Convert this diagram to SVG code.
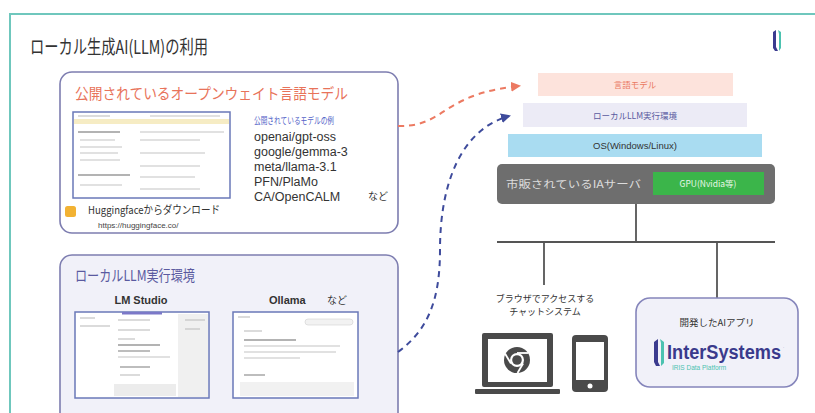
<svg xmlns="http://www.w3.org/2000/svg" width="815" height="413" viewBox="0 0 815 413">
  <defs>
    <style>
      .jp { font-family: "Noto Sans CJK JP", "Noto Sans", sans-serif; }
      .lat { font-family: "Liberation Sans", "Noto Sans CJK JP", sans-serif; }
      .panel { stroke: #7d7db0; stroke-width: 1.6; }
      .shot { fill: #ffffff; stroke: #6a78b8; stroke-width: 1.5; }
      .ln { stroke: #c4c4c4; stroke-width: 1.2; }
      .ln2 { stroke: #9a9a9a; stroke-width: 1.3; }
      .wire { stroke: #555555; stroke-width: 1.8; fill: none; }
      .dev { fill: #4a4a4a; }
    </style>
    <marker id="arrOrange" viewBox="0 0 10 10" refX="8" refY="5" markerWidth="5" markerHeight="5" orient="auto">
      <path d="M0,0 L10,5 L0,10 Z" fill="#ec7a62"/>
    </marker>
    <marker id="arrBlue" viewBox="0 0 10 10" refX="8" refY="5" markerWidth="5" markerHeight="5" orient="auto">
      <path d="M0,0 L10,5 L0,10 Z" fill="#3e4b9c"/>
    </marker>
  </defs>

  <rect x="0" y="0" width="815" height="413" fill="#ffffff"/>
  <!-- page frame -->
  <rect x="10" y="14" width="830" height="430" fill="#ffffff" stroke="#6fc7bd" stroke-width="2"/>

  <text class="jp" x="30" y="54" font-size="19" fill="#333333" textLength="178" lengthAdjust="spacingAndGlyphs">ローカル生成AI(LLM)の利用</text>

  <!-- corner mark -->
  <g id="corner-logo">
    <path d="M773,32 L776,30 L776,47 L778,51 L775,51 L773,48 Z" fill="#3b3b8f"/>
    <path d="M778,30 L781,32 L781,48 L779,51 L779,34 Z" fill="#4cc2b0"/>
  </g>

  <!-- open-weight models panel -->
  <g id="open-models">
    <rect class="panel" x="60" y="72" width="338" height="161" rx="12" fill="#ffffff"/>
    <text class="jp" x="75" y="99" font-size="15" fill="#e8735a" textLength="273" lengthAdjust="spacingAndGlyphs">公開されているオープンウェイト言語モデル</text>
    <rect class="shot" x="73" y="112" width="157" height="86"/>
    <rect x="74" y="119" width="155" height="5" fill="#f6ecc4"/>
    <line class="ln" x1="78" y1="116" x2="110" y2="116"/>
    <line class="ln" x1="150" y1="116" x2="220" y2="116"/>
    <line class="ln2" x1="78" y1="132" x2="120" y2="132"/>
    <line class="ln" x1="140" y1="132" x2="224" y2="132"/>
    <line class="ln" x1="80" y1="140" x2="115" y2="140"/>
    <line class="ln" x1="140" y1="140" x2="200" y2="140"/>
    <line class="ln" x1="80" y1="147" x2="122" y2="147"/>
    <line class="ln" x1="80" y1="153" x2="118" y2="153"/>
    <line class="ln" x1="140" y1="153" x2="205" y2="153"/>
    <line class="ln" x1="80" y1="160" x2="120" y2="160"/>
    <line class="ln" x1="140" y1="166" x2="200" y2="166"/>
    <line class="ln2" x1="78" y1="175" x2="130" y2="175"/>
    <line class="ln" x1="140" y1="177" x2="195" y2="177"/>
    <line class="ln" x1="80" y1="185" x2="122" y2="185"/>
    <line class="ln" x1="140" y1="189" x2="200" y2="189"/>
    <rect x="65" y="206" width="11" height="11" rx="2.5" fill="#f2b233"/>
    <text class="jp" x="88" y="214" font-size="11" fill="#333333" textLength="132" lengthAdjust="spacingAndGlyphs">Huggingfaceからダウンロード</text>
    <text class="lat" x="98" y="228" font-size="8" fill="#444444">https://huggingface.co/</text>
    <text class="jp" x="254" y="124" font-size="9.5" fill="#5464c8" textLength="80" lengthAdjust="spacingAndGlyphs">公開されているモデルの例</text>
    <text class="lat" font-size="12.5" fill="#333333">
      <tspan x="254" y="141">openai/gpt-oss</tspan>
      <tspan x="254" y="156">google/gemma-3</tspan>
      <tspan x="254" y="171">meta/llama-3.1</tspan>
      <tspan x="254" y="186">PFN/PlaMo</tspan>
      <tspan x="254" y="201">CA/OpenCALM</tspan>
    </text>
    <text class="jp" x="368" y="200" font-size="10" fill="#333333">など</text>
  </g>

  <!-- local runtime panel -->
  <g id="local-runtime">
    <rect class="panel" x="60" y="255" width="338" height="180" rx="12" fill="#f1f1f9"/>
    <text class="jp" x="75" y="281" font-size="15" fill="#5a5aa0" textLength="120" lengthAdjust="spacingAndGlyphs">ローカルLLM実行環境</text>
    <text class="lat" x="141" y="304" font-size="11" font-weight="bold" fill="#333333" text-anchor="middle">LM Studio</text>
    <text class="lat" x="269" y="304" font-size="11" font-weight="bold" fill="#333333">Ollama</text>
    <text class="jp" x="327" y="304" font-size="10" fill="#333333">など</text>
    <rect class="shot" x="75" y="312" width="134" height="86"/>
    <rect x="122" y="312" width="40" height="2.5" fill="#7b78c8"/>
    <rect x="178" y="314" width="30" height="83" fill="#f0f0f0"/>
    <line class="ln" x1="80" y1="318" x2="95" y2="318"/>
    <line class="ln" x1="80" y1="326" x2="110" y2="326"/>
    <line class="ln" x1="118" y1="320" x2="150" y2="320"/>
    <line class="ln" x1="118" y1="330" x2="150" y2="330"/>
    <line class="ln" x1="118" y1="339" x2="135" y2="339"/>
    <line class="ln2" x1="118" y1="345" x2="160" y2="345"/>
    <line class="ln2" x1="118" y1="351" x2="150" y2="351"/>
    <line class="ln" x1="118" y1="357" x2="170" y2="357"/>
    <line class="ln2" x1="120" y1="367" x2="150" y2="367"/>
    <line class="ln" x1="120" y1="375" x2="140" y2="375"/>
    <line class="ln" x1="185" y1="320" x2="205" y2="320"/>
    <line class="ln" x1="185" y1="329" x2="200" y2="329"/>
    <rect x="114" y="384" width="62" height="12" fill="#ececec"/>
    <rect class="shot" x="233" y="312" width="125" height="86"/>
    <line class="ln" x1="238" y1="317" x2="250" y2="317"/>
    <rect x="305" y="319" width="48" height="6" rx="3" fill="#f2f2f2" stroke="#d0d0d0" stroke-width="0.6"/>
    <line class="ln" x1="244" y1="331" x2="262" y2="331"/>
    <line class="ln2" x1="244" y1="340" x2="296" y2="340"/>
    <line class="ln" x1="244" y1="346" x2="340" y2="346"/>
    <line class="ln" x1="244" y1="352" x2="336" y2="352"/>
    <line class="ln" x1="244" y1="358" x2="300" y2="358"/>
    <line class="ln2" x1="244" y1="375" x2="265" y2="375"/>
    <rect x="240" y="382" width="114" height="14" fill="#f1f1f1"/>
  </g>

  <!-- software / hardware stack -->
  <g id="stack-model">
    <rect x="538" y="73" width="195" height="23" fill="#fde3dc"/>
    <text class="jp" x="635" y="88" font-size="8.5" fill="#ea7a62" text-anchor="middle">言語モデル</text>
  </g>
  <g id="stack-runtime">
    <rect x="523" y="103" width="224" height="24" fill="#ecebf6"/>
    <text class="jp" x="635" y="118.5" font-size="8.5" fill="#5a5aa0" text-anchor="middle">ローカルLLM実行環境</text>
  </g>
  <g id="stack-os">
    <rect x="508" y="134" width="254" height="23" fill="#a9dcf1"/>
    <text class="lat" x="635" y="149" font-size="9.5" fill="#333333" text-anchor="middle">OS(Windows/Linux)</text>
  </g>
  <g id="stack-server">
    <rect x="497" y="164" width="278" height="40" rx="5" fill="#6e6e6e"/>
    <text class="jp" x="506" y="188" font-size="10.5" fill="#dcdcdc" textLength="135" lengthAdjust="spacingAndGlyphs">市販されているIAサーバ</text>
    <rect x="653" y="172" width="111" height="23" fill="#3bb54a"/>
    <text class="jp" x="708" y="187" font-size="8.5" fill="#e8f7e8" text-anchor="middle">GPU(Nvidia等)</text>
  </g>

  <!-- connectors -->
  <g id="connectors">
    <path d="M398,126 C428,127 440,112 458,103 C478,92 500,88 519,86" fill="none" stroke="#ec7a62" stroke-width="2" stroke-dasharray="6,5" marker-end="url(#arrOrange)"/>
    <path d="M398,352 C428,330 440,300 440,250 C440,185 460,130 509,116" fill="none" stroke="#3e4b9c" stroke-width="2" stroke-dasharray="6,5" marker-end="url(#arrBlue)"/>
    <line class="wire" x1="636" y1="204" x2="636" y2="242"/>
    <line class="wire" x1="497" y1="242" x2="775" y2="242"/>
    <line class="wire" x1="544" y1="242" x2="544" y2="285"/>
    <line class="wire" x1="717" y1="242" x2="717" y2="298"/>
  </g>

  <!-- chat clients -->
  <g id="chat-clients">
    <text class="jp" x="545" y="302" font-size="9" fill="#333333" text-anchor="middle">ブラウザでアクセスする</text>
    <text class="jp" x="545" y="315" font-size="9" fill="#333333" text-anchor="middle">チャットシステム</text>
    <rect x="482" y="333" width="71" height="54" rx="2" class="dev"/>
    <rect x="488" y="339" width="59" height="43" fill="#ffffff"/>
    <rect x="475" y="389" width="85" height="5" rx="1" class="dev"/>
    <circle cx="517" cy="360" r="13" fill="#4a4a4a"/>
    <circle cx="517" cy="360" r="7" fill="#ffffff"/>
    <circle cx="517" cy="360" r="4.8" fill="#4a4a4a"/>
    <line x1="517" y1="353" x2="528.5" y2="353" stroke="#ffffff" stroke-width="1.8"/>
    <line x1="510.9" y1="363.5" x2="505" y2="353.5" stroke="#ffffff" stroke-width="1.8"/>
    <line x1="523.1" y1="363.5" x2="517.5" y2="373" stroke="#ffffff" stroke-width="1.8"/>
    <rect x="572" y="335" width="36" height="57" rx="4" class="dev"/>
    <rect x="576" y="342" width="28" height="38" fill="#ffffff"/>
    <circle cx="590" cy="386" r="2.5" fill="#ffffff"/>
  </g>

  <!-- developed AI app -->
  <g id="ai-app">
    <rect x="636" y="298" width="162" height="89" rx="14" fill="#f1f1f9" stroke="#8585bb" stroke-width="1.6"/>
    <text class="jp" x="717" y="326" font-size="9.5" fill="#333333" text-anchor="middle">開発したAIアプリ</text>
    <path d="M654,342 L658,339 L658,362 L660,366 L656,366 L654,362 Z" fill="#3b3b8f"/>
    <path d="M660,339 L664,342 L664,363 L661,366 L661,343 Z" fill="#4cc2b0"/>
    <text class="lat" x="667" y="359" font-size="20" font-weight="bold" fill="#3a3a8c" textLength="114" lengthAdjust="spacingAndGlyphs">InterSystems</text>
    <text class="lat" x="783" y="349" font-size="4" fill="#3a3a8c">·</text>
    <text class="lat" x="672" y="370" font-size="6.5" fill="#4cc2b0">IRIS Data Platform</text>
  </g>
</svg>
